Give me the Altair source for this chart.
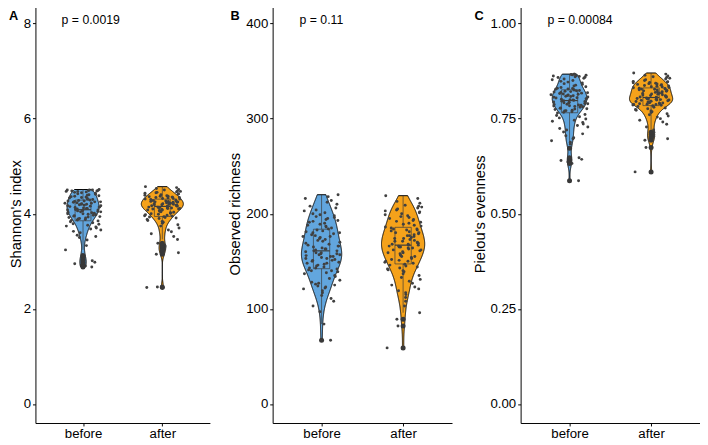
import numpy as np
import pandas as pd
import altair as alt

# ---------------- data ----------------
groups = ["before", "after"]
group_colors = ["#62A6DE", "#F5A21B"]
panel_letters = ["A", "B", "C"]
y_titles = ["Shannon's index", "Observed richness", "Pielou's evenness"]
p_labels = ["p = 0.0019", "p = 0.11", "p = 0.00084"]
y_ticks = [[0, 2, 4, 6, 8], [0, 100, 200, 300, 400], [0.0, 0.25, 0.5, 0.75, 1.0]]
y_formats = ["d", "d", ".2f"]

shannon_before = [
    2.88, 2.90, 2.92, 2.95, 2.98, 3.01, 3.04, 3.08, 3.12,
    3.24, 3.33, 3.45, 3.50, 3.52, 3.55,
    3.60, 3.63, 3.66, 3.68, 3.70, 3.72, 3.74, 3.76, 3.78, 3.79,
    3.81, 3.83, 3.85,
    3.86, 3.87, 3.88, 3.89, 3.90, 3.91, 3.92, 3.93, 3.94, 3.95, 3.96, 3.97, 3.98, 3.99,
    4.00, 4.00, 4.01, 4.02, 4.03, 4.04, 4.04, 4.05, 4.06, 4.06, 4.07, 4.08, 4.08,
    4.09, 4.10, 4.11, 4.11, 4.12, 4.13, 4.14, 4.14, 4.15, 4.16, 4.17, 4.17, 4.18, 4.19,
    4.20, 4.20, 4.21, 4.22, 4.22, 4.23, 4.24, 4.25, 4.25, 4.26, 4.27, 4.27, 4.28,
    4.29, 4.30, 4.31, 4.32, 4.33, 4.34, 4.35, 4.36, 4.37, 4.38, 4.39, 4.40, 4.41,
    4.42, 4.43, 4.44, 4.45, 4.46, 4.47, 4.47, 4.48, 4.48, 4.49, 4.49, 4.50, 4.50,
    4.50, 4.51,
]
shannon_after = [
    2.45, 2.46, 3.15, 3.18, 3.22, 3.26, 3.29, 3.31, 3.34, 3.38,
    3.46, 3.52, 3.58, 3.62, 3.66, 3.70, 3.74, 3.77,
    3.80, 3.82, 3.84, 3.86, 3.88, 3.90, 3.91, 3.92, 3.93, 3.94,
    3.95, 3.96, 3.97, 3.98, 3.99, 4.00, 4.01, 4.02, 4.03, 4.04, 4.05, 4.06, 4.07, 4.08,
    4.08, 4.09, 4.10, 4.10, 4.11, 4.11, 4.12, 4.12, 4.13, 4.13, 4.14, 4.14, 4.15,
    4.16, 4.16, 4.17, 4.17, 4.18, 4.18, 4.19, 4.19, 4.20, 4.20, 4.21, 4.21, 4.22, 4.22,
    4.23, 4.23, 4.24, 4.24, 4.25, 4.25, 4.26, 4.26, 4.27, 4.27, 4.28, 4.29, 4.30,
    4.31, 4.31, 4.32, 4.32, 4.33, 4.34, 4.34, 4.35, 4.35, 4.36, 4.37, 4.37, 4.38, 4.39,
    4.40, 4.41, 4.42, 4.43, 4.44, 4.45, 4.46, 4.47, 4.48, 4.50, 4.51, 4.53, 4.55, 4.57,
]
richness_before = [
    67, 84, 97, 103, 108, 111, 114, 117, 119, 121, 122, 123, 124, 125, 126, 127, 128,
    130, 132, 134, 135, 137, 138, 139, 140, 140, 141,
    142, 143, 143, 144, 145, 146, 147, 148, 148, 149, 150, 151, 151, 152, 153, 153,
    154, 155, 155, 156, 157, 157, 158, 158, 159, 159, 160,
    161, 161, 162, 163, 163, 164, 165, 166, 166, 167, 168, 169, 170, 171, 172, 173,
    174, 175, 176, 176, 177, 178, 179, 180, 180, 181, 182,
    183, 184, 185, 186, 187, 188, 189, 190, 191, 192, 193, 194, 195, 196, 197, 198,
    199, 200, 201, 203, 204, 206, 208, 210, 212, 214, 216, 218, 220,
]
richness_after = [
    59, 82, 89, 96, 103, 108, 112, 115, 117, 119, 121, 123, 125, 127, 129, 131, 133,
    135, 137, 139, 140, 141, 142, 143, 144, 145, 146, 147,
    148, 149, 150, 150, 151, 152, 153, 154, 155, 155, 156, 157, 158, 159, 159, 160,
    161, 162, 162, 163, 164, 164, 165, 165, 166, 166, 167,
    167, 168, 168, 169, 169, 170, 171, 171, 172, 173, 174, 174, 175, 176, 177, 177,
    178, 179, 180, 180, 181, 182, 183, 183, 184, 184, 185,
    186, 187, 188, 189, 190, 191, 192, 193, 194, 195, 196, 197, 198, 199, 200, 201,
    202, 203, 204, 205, 206, 207, 208, 209, 211, 213, 216, 219,
]
evenness_before = [
    0.587, 0.632, 0.636, 0.640, 0.643, 0.647, 0.672,
    0.683, 0.688, 0.692, 0.697, 0.700, 0.705, 0.710, 0.715, 0.720, 0.724, 0.728,
    0.732, 0.736, 0.740, 0.743, 0.746, 0.749, 0.752, 0.755, 0.758, 0.761,
    0.765, 0.767, 0.768, 0.770, 0.771, 0.772, 0.774, 0.775, 0.776, 0.777, 0.778,
    0.780, 0.781, 0.782, 0.783, 0.784, 0.785, 0.786, 0.787, 0.788, 0.789, 0.790,
    0.791, 0.792, 0.793, 0.794, 0.795,
    0.796, 0.797, 0.798, 0.799, 0.800, 0.801, 0.802, 0.803, 0.804, 0.805, 0.806,
    0.807, 0.808, 0.809, 0.810, 0.811, 0.812, 0.813, 0.814, 0.815, 0.816, 0.817,
    0.818, 0.819, 0.820, 0.821, 0.822,
    0.823, 0.824, 0.825, 0.826, 0.827, 0.828, 0.829, 0.830, 0.832, 0.834, 0.836,
    0.838, 0.840, 0.842, 0.844, 0.846, 0.848, 0.850, 0.852, 0.854, 0.856, 0.858,
    0.859, 0.860, 0.861, 0.862, 0.863, 0.864, 0.865, 0.866, 0.867, 0.867,
]
evenness_after = [
    0.610, 0.674, 0.693, 0.697, 0.700, 0.704, 0.709, 0.714,
    0.720, 0.728, 0.735, 0.741, 0.746, 0.750, 0.754, 0.757, 0.760, 0.763, 0.766,
    0.768, 0.770, 0.772, 0.774, 0.776, 0.778, 0.780, 0.782, 0.784,
    0.785, 0.786, 0.787, 0.787, 0.788, 0.789, 0.790, 0.790, 0.791, 0.792, 0.793,
    0.793, 0.794, 0.795, 0.796, 0.796, 0.797, 0.798, 0.799, 0.799, 0.800, 0.801,
    0.802, 0.802, 0.803, 0.804, 0.805,
    0.806, 0.806, 0.807, 0.808, 0.809, 0.810, 0.811, 0.812, 0.813, 0.814, 0.815,
    0.816, 0.817, 0.818, 0.819, 0.820, 0.821, 0.822, 0.823, 0.824, 0.825, 0.826,
    0.827, 0.828, 0.828, 0.829, 0.830,
    0.831, 0.832, 0.833, 0.834, 0.835, 0.836, 0.837, 0.838, 0.839, 0.840, 0.841,
    0.842, 0.843, 0.844, 0.845, 0.846, 0.847, 0.848, 0.850, 0.852, 0.854, 0.856,
    0.858, 0.860, 0.862, 0.864, 0.867, 0.870,
]

panel_data = [
    (shannon_before, shannon_after),
    (richness_before, richness_after),
    (evenness_before, evenness_after),
]

# ---------------- styling ----------------
FONT = "Liberation Sans"
H = 427
widths = [178, 183, 183]
VIOLIN_WIDTH = 0.53
BOX_WIDTH = 0.2
JITTER = 0.23
letter_dx = [-27, -43, -47]
title_pad = [0, 3, 3]


def nrd0(x):
    sd = np.std(x, ddof=1)
    q75, q25 = np.percentile(x, [75, 25])
    lo = min(sd, (q75 - q25) / 1.34)
    return 0.9 * lo * len(x) ** (-0.2)


def kde(x, n=512):
    x = np.asarray(x, float)
    bw = nrd0(x)
    grid = np.linspace(x.min(), x.max(), n)
    z = (grid[:, None] - x[None, :]) / bw
    d = np.exp(-0.5 * z ** 2).sum(axis=1) / (len(x) * bw * np.sqrt(2 * np.pi))
    return grid, d


def build_panel(k):
    vio, box, whisk, outl, pts = [], [], [], [], []
    dens = []
    for gi, g in enumerate(groups):
        v = np.asarray(panel_data[k][gi], float)
        pos = gi + 1
        grid, d = kde(v)
        dens.append((g, pos, grid, d))
        q1, med, q3 = np.percentile(v, [25, 50, 75])
        iqr = q3 - q1
        lf, uf = q1 - 1.5 * iqr, q3 + 1.5 * iqr
        inl = v[(v >= lf) & (v <= uf)]
        box.append(dict(group=g, pos=pos, q1=q1, med=med, q3=q3,
                        bx1=pos - BOX_WIDTH / 2, bx2=pos + BOX_WIDTH / 2))
        whisk.append(dict(group=g, pos=pos, y=q3, y2=inl.max()))
        whisk.append(dict(group=g, pos=pos, y=q1, y2=inl.min()))
        for o in v[(v < lf) | (v > uf)]:
            outl.append(dict(group=g, pos=pos, value=o))
        for val in v:
            pts.append(dict(group=g, pos=pos, value=val))
    dmax = max(d.max() for _, _, _, d in dens)
    for g, pos, grid, d in dens:
        half = d / dmax * VIOLIN_WIDTH / 2
        for yy, hh in zip(grid, half):
            vio.append(dict(group=g, value=yy, x1=pos - hh, x2=pos + hh))

    ymin, ymax = y_ticks[k][0], y_ticks[k][-1]
    pad = (ymax - ymin) * 0.05
    yscale = alt.Scale(domain=[ymin - pad, ymax + pad], nice=False, zero=False)
    xscale = alt.Scale(domain=[0.4, 2.6], nice=False, zero=False)
    label_expr = "[" + ",".join("'" + g + "'" for g in groups) + "][datum.value - 1]"
    xaxis = alt.Axis(values=[1, 2], labelExpr=label_expr, title=None, grid=False,
                     tickSize=3, tickColor="black", domainColor="black",
                     labelColor="black", labelFontSize=13.5, labelPadding=1,
                     labelFont=FONT)
    yaxis = alt.Axis(values=y_ticks[k], format=y_formats[k], title=y_titles[k],
                     grid=False, tickSize=3, tickColor="black", domainColor="black",
                     labelColor="black", labelFontSize=13.5, labelPadding=2,
                     labelFont=FONT, titleFont=FONT, titleFontSize=15,
                     titleFontWeight="normal", titleColor="black",
                     titlePadding=title_pad[k])

    def X(f):
        return alt.X(f, type="quantitative", scale=xscale, axis=xaxis)

    def Y(f):
        return alt.Y(f, type="quantitative", scale=yscale, axis=yaxis)

    color = alt.Color("group:N", scale=alt.Scale(domain=groups, range=group_colors),
                      legend=None)

    violin = alt.Chart(pd.DataFrame(vio)).mark_area(
        orient="horizontal", stroke="black", strokeWidth=1, opacity=1
    ).encode(y=Y("value"), x=X("x1"), x2="x2:Q", color=color)

    boxes = alt.Chart(pd.DataFrame(box)).mark_rect(
        fillOpacity=0, stroke="#3a3a3a", strokeWidth=0.7
    ).encode(x=X("bx1"), x2="bx2:Q", y=Y("q1"), y2="q3:Q")

    medians = alt.Chart(pd.DataFrame(box)).mark_rule(
        color="#3a3a3a", strokeWidth=1.2
    ).encode(x=X("bx1"), x2="bx2:Q", y=Y("med"))

    whiskers = alt.Chart(pd.DataFrame(whisk)).mark_rule(
        color="#3a3a3a", strokeWidth=0.7
    ).encode(x=X("pos"), y=Y("y"), y2="y2:Q")

    # deterministic hash-style jitter (layout only, like geom_jitter)
    jitter_expr = ("datum.pos + ((sin(datum.rn * 12.9898 + datum.pos * 78.233) * 43758.5453"
                   " - floor(sin(datum.rn * 12.9898 + datum.pos * 78.233) * 43758.5453))"
                   " - 0.5) * " + str(2 * JITTER))
    points = alt.Chart(pd.DataFrame(pts)).transform_window(
        rn="row_number()", groupby=["group"]
    ).transform_calculate(
        jx=jitter_expr
    ).mark_circle(size=9, color="#404040", opacity=1).encode(x=X("jx"), y=Y("value"))

    outliers = alt.Chart(pd.DataFrame(outl)).mark_circle(
        size=26, color="#383838", opacity=1
    ).encode(x=X("pos"), y=Y("value"))

    ptext = alt.Chart(pd.DataFrame({"t": [p_labels[k]], "x": [0.73], "y": [ymax]})).mark_text(
        align="left", baseline="middle", fontSize=12.5, font=FONT, color="black", dy=-3
    ).encode(x=X("x"), y=Y("y"), text="t:N")

    letter = alt.Chart(pd.DataFrame({"t": [panel_letters[k]]})).mark_text(
        align="left", baseline="top", fontSize=13, fontWeight="bold", font=FONT,
        color="black"
    ).encode(x=alt.value(letter_dx[k]), y=alt.value(6), text="t:N")

    return alt.layer(violin, boxes, whiskers, medians, points, outliers, ptext, letter
                     ).properties(width=widths[k], height=H)


pA = build_panel(0)
pB = build_panel(1)
pC = build_panel(2)
chart = alt.hconcat(alt.hconcat(pA, pB, spacing=18), pC, spacing=20).properties(
    padding={"left": 0, "top": -8, "right": 0, "bottom": 0}
).configure_view(stroke=None).configure_axis(domainWidth=1, tickWidth=1)

chart.save("out.html", embed_options={"renderer": "svg", "actions": False})
